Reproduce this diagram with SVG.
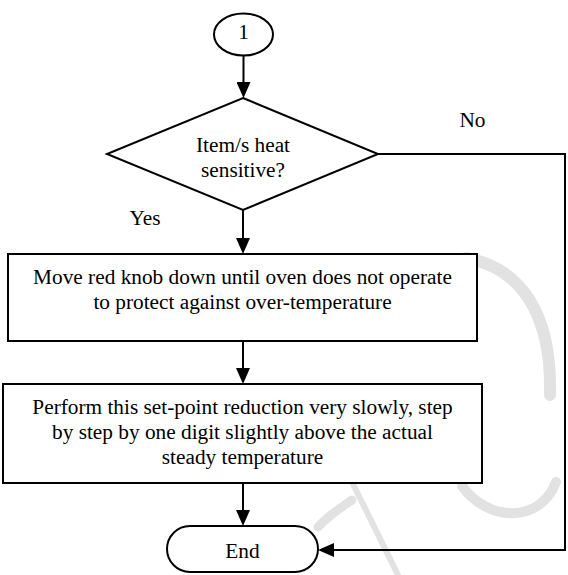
<svg xmlns="http://www.w3.org/2000/svg" width="568" height="575" viewBox="0 0 568 575">
<style>
.shape{fill:#fff;stroke:#000;stroke-width:2}
.conn{fill:none;stroke:#000;stroke-width:2}
.t{font-family:"Liberation Serif","Times New Roman",Times,serif;font-size:21.3px;fill:#000;text-anchor:middle}
.wm{fill:none;stroke:#e2e2e2;stroke-linecap:round}
</style>
<defs>
<marker id="arrow" markerUnits="userSpaceOnUse" markerWidth="16" markerHeight="14" refX="12" refY="7" orient="auto">
<path d="M0,0 L16,7 L0,14 z" fill="#000"/>
</marker>
</defs>
<rect width="568" height="575" fill="#fff"/>
<g id="watermark">
<path class="wm" stroke-width="12" d="M466,258 C522,268 552,315 550,395"/>
<path class="wm" stroke-width="10" d="M462,486 C488,522 540,524 556,482"/>
<path class="wm" stroke-width="9" d="M318,527 C330,514 342,507 352,500"/>
<path class="wm" stroke-width="6" d="M352,482 L398,575"/>
</g>
<g id="connectors">
<line class="conn" x1="243.5" y1="55" x2="243.5" y2="94" marker-end="url(#arrow)"/>
<line class="conn" x1="243" y1="210" x2="243" y2="250" marker-end="url(#arrow)"/>
<line class="conn" x1="243" y1="341" x2="243" y2="380" marker-end="url(#arrow)"/>
<line class="conn" x1="243" y1="483" x2="243" y2="522" marker-end="url(#arrow)"/>
<polyline class="conn" points="378,154 565,154 565,550 322,550" marker-end="url(#arrow)"/>
<text class="t" x="472.5" y="127">No</text>
<text class="t" x="145" y="225">Yes</text>
</g>
<g id="start">
<ellipse class="shape" cx="243.5" cy="34.5" rx="29.5" ry="21"/>
<text class="t" x="243.5" y="39">1</text>
</g>
<g id="decision">
<polygon class="shape" points="243,98 378,154 243,210 107,154"/>
<text class="t" x="243" y="152">Item/s heat</text>
<text class="t" x="243" y="177">sensitive?</text>
</g>
<g id="step1">
<rect class="shape" x="8" y="254" width="469" height="87"/>
<text class="t" x="242.5" y="284">Move red knob down until oven does not operate</text>
<text class="t" x="242.5" y="309">to protect against over-temperature</text>
</g>
<g id="step2">
<rect class="shape" x="3" y="384" width="479" height="99"/>
<text class="t" x="242.5" y="414">Perform this set-point reduction very slowly, step</text>
<text class="t" x="242.5" y="439">by step by one digit slightly above the actual</text>
<text class="t" x="242.5" y="464">steady temperature</text>
</g>
<g id="end">
<rect class="shape" x="167" y="526" width="151" height="46" rx="23" ry="23"/>
<text class="t" x="242.5" y="558">End</text>
</g>
</svg>
